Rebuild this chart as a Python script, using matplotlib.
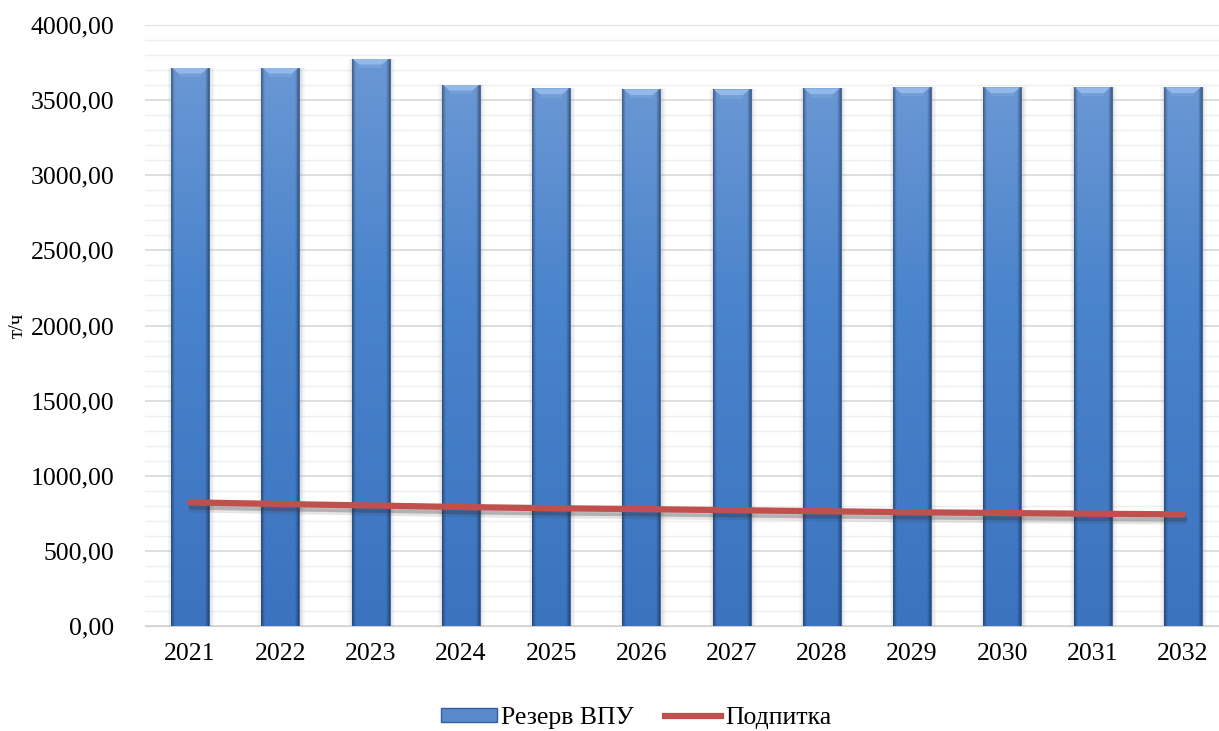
import matplotlib
matplotlib.use("Agg")
import matplotlib.pyplot as plt
import matplotlib.patheffects as pe
import numpy as np
from matplotlib.colors import to_rgb
from matplotlib.lines import Line2D
from matplotlib.patches import Patch

years = ["2021", "2022", "2023", "2024", "2025", "2026", "2027", "2028", "2029", "2030", "2031", "2032"]
reserve = [3714, 3714, 3774, 3601, 3578, 3572, 3571, 3578, 3585, 3585, 3585, 3585]
makeup = [823, 812, 802, 792, 784, 778, 771, 764, 757, 752, 747, 743]
yticks = [0, 500, 1000, 1500, 2000, 2500, 3000, 3500, 4000]
series_names = ["Резерв ВПУ", "Подпитка"]
ylabel = "т/ч"

plt.rcParams['font.family'] = ['Liberation Serif', 'DejaVu Serif']

W, H = 1219, 731
fig = plt.figure(figsize=(W / 100, H / 100), dpi=100)
left, bottom, top = 145, 105, 25
ax = fig.add_axes([left / W, bottom / H, (W - left) / W, (H - bottom - top) / H])

x = np.arange(len(years))
bw_cat = 0.42
# soft shadow halo behind bars
for extra, a in [(0.10, 0.06), (0.06, 0.08), (0.03, 0.10)]:
    ax.bar(x + 0.01, reserve, width=bw_cat + extra, color="#808080", alpha=a, lw=0, zorder=2)
bars = ax.bar(x, reserve, width=bw_cat, color="#4A83CB", edgecolor="#35639E", linewidth=0.6, zorder=3)

# 2D gradient for the bar body: lighter at top, darker at bottom and edges
ny, nx = 200, 40
vt = np.linspace(0, 1, ny)[:, None]           # 0 bottom, 1 top
hx = np.linspace(-1, 1, nx)[None, :]
c_bot = np.array(to_rgb("#3C73BF"))
c_mid = np.array(to_rgb("#4A84CC"))
c_top = np.array(to_rgb("#6A97D4"))
base = np.where(vt[..., None] < 0.6,
                c_bot + (c_mid - c_bot) * (vt[..., None] / 0.6),
                c_mid + (c_top - c_mid) * ((vt[..., None] - 0.6) / 0.4))
edge = np.clip((np.abs(hx) - 0.82) / 0.18, 0, 1)[..., None]
img = base * (1 - 0.35 * edge)
img = np.broadcast_to(img, (ny, nx, 3)).copy()

bev = 38.0  # bevel height in data units (~6 px)
for b in bars:
    bx, bw, bh = b.get_x(), b.get_width(), b.get_height()
    im = ax.imshow(img, extent=(bx, bx + bw, 0, bh), aspect="auto", origin="lower",
                   interpolation="bilinear", zorder=3.1)
    im.set_clip_path(b)
    ax.fill([bx + bw * 0.03, bx + bw * 0.97, bx + bw * 0.80, bx + bw * 0.20],
            [bh, bh, bh - bev, bh - bev], color="#93B8EA", zorder=3.2, lw=0)
    ax.fill([bx + bw * 0.20, bx + bw * 0.80, bx + bw * 0.80, bx + bw * 0.20],
            [bh - bev, bh - bev, bh - bev * 1.6, bh - bev * 1.6], color="#7EA6DC", alpha=0.5, zorder=3.2, lw=0)

ax.plot(x, makeup, color="#C0504D", lw=4.5, solid_capstyle="round", zorder=4,
        path_effects=[pe.SimpleLineShadow(offset=(1, -3), shadow_color="#303030", alpha=0.28),
                      pe.SimpleLineShadow(offset=(1, -5), shadow_color="#303030", alpha=0.12),
                      pe.Normal()])

ax.set_xlim(-0.5, len(years) - 0.5 - (1228 - W) / 90.3)
ax.set_ylim(0, 4000)
ax.set_yticks(yticks)
ax.set_yticklabels([f"{v},00" for v in yticks], fontsize=18.5)
ax.set_yticks(np.arange(0, 4001, 100), minor=True)
ax.set_xticks(x)
ax.set_xticklabels(years, fontsize=18.5)
ax.tick_params(axis="both", length=0, which="both")
ax.tick_params(axis="y", pad=22)
ax.tick_params(axis="x", pad=12)
ax.grid(axis="y", which="major", color="#D9D9D9", lw=1.2, zorder=0)
ax.grid(axis="y", which="minor", color="#EFEFEF", lw=1.0, zorder=0)
for s in ["left", "right", "top"]:
    ax.spines[s].set_visible(False)
ax.spines["bottom"].set_color("#D0D0D0")
ax.set_axisbelow(True)

fig.text(18 / W, 1 - 325 / H, ylabel, rotation=90, fontsize=15, ha="center", va="center")

handles = [Patch(facecolor="#5A8ACB", edgecolor="#2F5F9E"), Line2D([0], [0], color="#C0504D", lw=4.5)]
fig.legend(handles, series_names, loc="center", bbox_to_anchor=(636 / W, 1 - 718 / H), ncol=2,
           frameon=False, fontsize=18.5, handlelength=2.2, handleheight=0.45, columnspacing=1.2,
           handletextpad=0.15)

fig.savefig("out.png", dpi=100)
